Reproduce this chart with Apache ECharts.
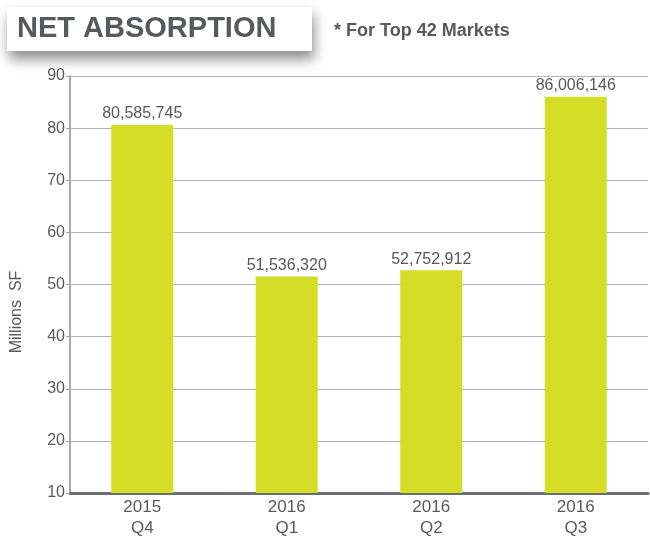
<!DOCTYPE html>
<html>
<head>
<meta charset="utf-8">
<script src="https://cdn.jsdelivr.net/npm/echarts@6/dist/echarts.min.js"></script>
<style>
  html, body { margin: 0; padding: 0; background: #fff; }
  #chart { width: 650px; height: 539px; }
</style>
</head>
<body>
<div id="chart"></div>
<script>
// quarters on the x axis
var categories = ['2015\nQ4', '2016\nQ1', '2016\nQ2', '2016\nQ3'];
// net absorption, square feet
var absorption = [80585745, 51536320, 52752912, 86006146];
var yTicks = [10, 20, 30, 40, 50, 60, 70, 80, 90];

var grey = '#58595b';
var fam = '"Liberation Sans", Arial, sans-serif';

var chart = echarts.init(document.getElementById('chart'));

var option = {
    animation: false,
    grid: { left: 70, right: 2, top: 76, bottom: 45 },
    xAxis: {
        type: 'category',
        data: categories,
        axisLine: { lineStyle: { color: '#6d6e71', width: 3 } },
        axisTick: { show: false },
        axisLabel: {
            color: grey, fontSize: 17, lineHeight: 21,
            fontFamily: fam, margin: 4
        }
    },
    yAxis: {
        type: 'value',
        min: yTicks[0],
        max: yTicks[yTicks.length - 1],
        interval: 10,
        axisLine: { show: true, lineStyle: { color: '#a7a9ac', width: 2 } },
        axisTick: { show: true, length: 4, lineStyle: { color: '#a7a9ac' } },
        splitLine: { lineStyle: { color: '#b3b3b3', width: 1 } },
        axisLabel: {
            color: grey, fontSize: 16,
            fontFamily: fam, margin: 5
        }
    },
    series: [{
        type: 'bar',
        barWidth: 62,
        data: absorption.map(function (v) { return v / 1e6; }),
        itemStyle: { color: '#d4de27' },
        label: {
            show: true,
            position: 'top',
            distance: 3,
            color: grey,
            fontSize: 16,
            fontFamily: fam,
            formatter: function (p) {
                return absorption[p.dataIndex].toLocaleString('en-US');
            }
        }
    }],
    graphic: [
        {
            type: 'rect',
            shape: { x: 7, y: 7, width: 305, height: 44 },
            style: {
                fill: '#fff',
                shadowBlur: 12,
                shadowOffsetX: 2,
                shadowOffsetY: 8,
                shadowColor: 'rgba(0,0,0,0.45)'
            }
        },
        {
            type: 'text',
            x: 17, y: 29,
            style: {
                text: 'NET ABSORPTION',
                fill: grey,
                font: 'bold 29px ' + fam,
                verticalAlign: 'middle'
            }
        },
        {
            type: 'text',
            x: 334, y: 31,
            style: {
                text: '* For Top 42 Markets',
                fill: grey,
                font: 'bold 18px ' + fam,
                verticalAlign: 'middle'
            }
        },
        {
            type: 'text',
            x: 17, y: 312,
            rotation: Math.PI / 2,
            style: {
                text: 'Millions  SF',
                fill: grey,
                font: '16px ' + fam,
                align: 'center',
                verticalAlign: 'middle'
            }
        }
    ]
};

chart.setOption(option);
</script>
</body>
</html>
